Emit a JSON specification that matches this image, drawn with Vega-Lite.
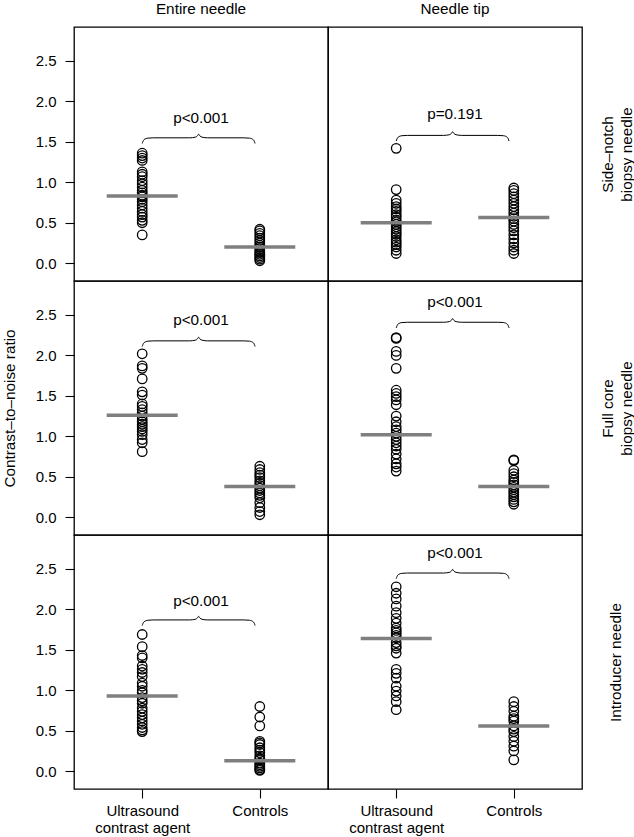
{
"$schema": "https://vega.github.io/schema/vega-lite/v6.json",
"padding": {"left": 1, "top": 1, "right": 0, "bottom": 0},
"background": "white",
"bounds": "flush",
"spacing": 0,
"columns": 2,
"datasets": {"cnr": [
{"col":"Entire needle","row":"Side–notch","kind":"pt","x":1,"y":1.36},
{"col":"Entire needle","row":"Side–notch","kind":"pt","x":1,"y":1.33},
{"col":"Entire needle","row":"Side–notch","kind":"pt","x":1,"y":1.30},
{"col":"Entire needle","row":"Side–notch","kind":"pt","x":1,"y":1.27},
{"col":"Entire needle","row":"Side–notch","kind":"pt","x":1,"y":1.13},
{"col":"Entire needle","row":"Side–notch","kind":"pt","x":1,"y":1.10},
{"col":"Entire needle","row":"Side–notch","kind":"pt","x":1,"y":1.07},
{"col":"Entire needle","row":"Side–notch","kind":"pt","x":1,"y":1.02},
{"col":"Entire needle","row":"Side–notch","kind":"pt","x":1,"y":0.98},
{"col":"Entire needle","row":"Side–notch","kind":"pt","x":1,"y":0.94},
{"col":"Entire needle","row":"Side–notch","kind":"pt","x":1,"y":0.90},
{"col":"Entire needle","row":"Side–notch","kind":"pt","x":1,"y":0.87},
{"col":"Entire needle","row":"Side–notch","kind":"pt","x":1,"y":0.84},
{"col":"Entire needle","row":"Side–notch","kind":"pt","x":1,"y":0.82},
{"col":"Entire needle","row":"Side–notch","kind":"pt","x":1,"y":0.79},
{"col":"Entire needle","row":"Side–notch","kind":"pt","x":1,"y":0.76},
{"col":"Entire needle","row":"Side–notch","kind":"pt","x":1,"y":0.72},
{"col":"Entire needle","row":"Side–notch","kind":"pt","x":1,"y":0.68},
{"col":"Entire needle","row":"Side–notch","kind":"pt","x":1,"y":0.64},
{"col":"Entire needle","row":"Side–notch","kind":"pt","x":1,"y":0.60},
{"col":"Entire needle","row":"Side–notch","kind":"pt","x":1,"y":0.57},
{"col":"Entire needle","row":"Side–notch","kind":"pt","x":1,"y":0.53},
{"col":"Entire needle","row":"Side–notch","kind":"pt","x":1,"y":0.50},
{"col":"Entire needle","row":"Side–notch","kind":"pt","x":1,"y":0.35},
{"col":"Entire needle","row":"Side–notch","kind":"pt","x":2,"y":0.42},
{"col":"Entire needle","row":"Side–notch","kind":"pt","x":2,"y":0.40},
{"col":"Entire needle","row":"Side–notch","kind":"pt","x":2,"y":0.37},
{"col":"Entire needle","row":"Side–notch","kind":"pt","x":2,"y":0.34},
{"col":"Entire needle","row":"Side–notch","kind":"pt","x":2,"y":0.31},
{"col":"Entire needle","row":"Side–notch","kind":"pt","x":2,"y":0.28},
{"col":"Entire needle","row":"Side–notch","kind":"pt","x":2,"y":0.25},
{"col":"Entire needle","row":"Side–notch","kind":"pt","x":2,"y":0.22},
{"col":"Entire needle","row":"Side–notch","kind":"pt","x":2,"y":0.20},
{"col":"Entire needle","row":"Side–notch","kind":"pt","x":2,"y":0.18},
{"col":"Entire needle","row":"Side–notch","kind":"pt","x":2,"y":0.15},
{"col":"Entire needle","row":"Side–notch","kind":"pt","x":2,"y":0.13},
{"col":"Entire needle","row":"Side–notch","kind":"pt","x":2,"y":0.11},
{"col":"Entire needle","row":"Side–notch","kind":"pt","x":2,"y":0.09},
{"col":"Entire needle","row":"Side–notch","kind":"pt","x":2,"y":0.07},
{"col":"Entire needle","row":"Side–notch","kind":"pt","x":2,"y":0.05},
{"col":"Entire needle","row":"Side–notch","kind":"pt","x":2,"y":0.03},
{"col":"Entire needle","row":"Side–notch","kind":"mean","x":1,"y":0.83},
{"col":"Entire needle","row":"Side–notch","kind":"mean","x":2,"y":0.20},
{"col":"Entire needle","row":"Side–notch","kind":"p","x":1.5,"y":1.79,"label":"p<0.001"},
{"col":"Entire needle","row":"Side–notch","kind":"brace","x":1.000,"y":1.48},
{"col":"Entire needle","row":"Side–notch","kind":"brace","x":1.014,"y":1.525},
{"col":"Entire needle","row":"Side–notch","kind":"brace","x":1.048,"y":1.546},
{"col":"Entire needle","row":"Side–notch","kind":"brace","x":1.096,"y":1.55},
{"col":"Entire needle","row":"Side–notch","kind":"brace","x":1.403,"y":1.55},
{"col":"Entire needle","row":"Side–notch","kind":"brace","x":1.451,"y":1.558},
{"col":"Entire needle","row":"Side–notch","kind":"brace","x":1.470,"y":1.575},
{"col":"Entire needle","row":"Side–notch","kind":"brace","x":1.480,"y":1.595},
{"col":"Entire needle","row":"Side–notch","kind":"brace","x":1.490,"y":1.575},
{"col":"Entire needle","row":"Side–notch","kind":"brace","x":1.509,"y":1.558},
{"col":"Entire needle","row":"Side–notch","kind":"brace","x":1.557,"y":1.55},
{"col":"Entire needle","row":"Side–notch","kind":"brace","x":1.864,"y":1.55},
{"col":"Entire needle","row":"Side–notch","kind":"brace","x":1.912,"y":1.546},
{"col":"Entire needle","row":"Side–notch","kind":"brace","x":1.946,"y":1.525},
{"col":"Entire needle","row":"Side–notch","kind":"brace","x":1.960,"y":1.48},

{"col":"Needle tip","row":"Side–notch","kind":"pt","x":1,"y":1.42},
{"col":"Needle tip","row":"Side–notch","kind":"pt","x":1,"y":0.91},
{"col":"Needle tip","row":"Side–notch","kind":"pt","x":1,"y":0.78},
{"col":"Needle tip","row":"Side–notch","kind":"pt","x":1,"y":0.74},
{"col":"Needle tip","row":"Side–notch","kind":"pt","x":1,"y":0.70},
{"col":"Needle tip","row":"Side–notch","kind":"pt","x":1,"y":0.67},
{"col":"Needle tip","row":"Side–notch","kind":"pt","x":1,"y":0.64},
{"col":"Needle tip","row":"Side–notch","kind":"pt","x":1,"y":0.60},
{"col":"Needle tip","row":"Side–notch","kind":"pt","x":1,"y":0.57},
{"col":"Needle tip","row":"Side–notch","kind":"pt","x":1,"y":0.53},
{"col":"Needle tip","row":"Side–notch","kind":"pt","x":1,"y":0.51},
{"col":"Needle tip","row":"Side–notch","kind":"pt","x":1,"y":0.48},
{"col":"Needle tip","row":"Side–notch","kind":"pt","x":1,"y":0.45},
{"col":"Needle tip","row":"Side–notch","kind":"pt","x":1,"y":0.42},
{"col":"Needle tip","row":"Side–notch","kind":"pt","x":1,"y":0.39},
{"col":"Needle tip","row":"Side–notch","kind":"pt","x":1,"y":0.36},
{"col":"Needle tip","row":"Side–notch","kind":"pt","x":1,"y":0.33},
{"col":"Needle tip","row":"Side–notch","kind":"pt","x":1,"y":0.29},
{"col":"Needle tip","row":"Side–notch","kind":"pt","x":1,"y":0.26},
{"col":"Needle tip","row":"Side–notch","kind":"pt","x":1,"y":0.23},
{"col":"Needle tip","row":"Side–notch","kind":"pt","x":1,"y":0.20},
{"col":"Needle tip","row":"Side–notch","kind":"pt","x":1,"y":0.16},
{"col":"Needle tip","row":"Side–notch","kind":"pt","x":1,"y":0.12},
{"col":"Needle tip","row":"Side–notch","kind":"pt","x":2,"y":0.93},
{"col":"Needle tip","row":"Side–notch","kind":"pt","x":2,"y":0.90},
{"col":"Needle tip","row":"Side–notch","kind":"pt","x":2,"y":0.86},
{"col":"Needle tip","row":"Side–notch","kind":"pt","x":2,"y":0.82},
{"col":"Needle tip","row":"Side–notch","kind":"pt","x":2,"y":0.78},
{"col":"Needle tip","row":"Side–notch","kind":"pt","x":2,"y":0.74},
{"col":"Needle tip","row":"Side–notch","kind":"pt","x":2,"y":0.70},
{"col":"Needle tip","row":"Side–notch","kind":"pt","x":2,"y":0.66},
{"col":"Needle tip","row":"Side–notch","kind":"pt","x":2,"y":0.62},
{"col":"Needle tip","row":"Side–notch","kind":"pt","x":2,"y":0.58},
{"col":"Needle tip","row":"Side–notch","kind":"pt","x":2,"y":0.55},
{"col":"Needle tip","row":"Side–notch","kind":"pt","x":2,"y":0.52},
{"col":"Needle tip","row":"Side–notch","kind":"pt","x":2,"y":0.48},
{"col":"Needle tip","row":"Side–notch","kind":"pt","x":2,"y":0.44},
{"col":"Needle tip","row":"Side–notch","kind":"pt","x":2,"y":0.40},
{"col":"Needle tip","row":"Side–notch","kind":"pt","x":2,"y":0.35},
{"col":"Needle tip","row":"Side–notch","kind":"pt","x":2,"y":0.30},
{"col":"Needle tip","row":"Side–notch","kind":"pt","x":2,"y":0.25},
{"col":"Needle tip","row":"Side–notch","kind":"pt","x":2,"y":0.20},
{"col":"Needle tip","row":"Side–notch","kind":"pt","x":2,"y":0.16},
{"col":"Needle tip","row":"Side–notch","kind":"pt","x":2,"y":0.12},
{"col":"Needle tip","row":"Side–notch","kind":"mean","x":1,"y":0.50},
{"col":"Needle tip","row":"Side–notch","kind":"mean","x":2,"y":0.565},
{"col":"Needle tip","row":"Side–notch","kind":"p","x":1.5,"y":1.85,"label":"p=0.191"},
{"col":"Needle tip","row":"Side–notch","kind":"brace","x":1.000,"y":1.51},
{"col":"Needle tip","row":"Side–notch","kind":"brace","x":1.014,"y":1.555},
{"col":"Needle tip","row":"Side–notch","kind":"brace","x":1.048,"y":1.576},
{"col":"Needle tip","row":"Side–notch","kind":"brace","x":1.096,"y":1.58},
{"col":"Needle tip","row":"Side–notch","kind":"brace","x":1.403,"y":1.58},
{"col":"Needle tip","row":"Side–notch","kind":"brace","x":1.451,"y":1.588},
{"col":"Needle tip","row":"Side–notch","kind":"brace","x":1.470,"y":1.605},
{"col":"Needle tip","row":"Side–notch","kind":"brace","x":1.480,"y":1.625},
{"col":"Needle tip","row":"Side–notch","kind":"brace","x":1.490,"y":1.605},
{"col":"Needle tip","row":"Side–notch","kind":"brace","x":1.509,"y":1.588},
{"col":"Needle tip","row":"Side–notch","kind":"brace","x":1.557,"y":1.58},
{"col":"Needle tip","row":"Side–notch","kind":"brace","x":1.864,"y":1.58},
{"col":"Needle tip","row":"Side–notch","kind":"brace","x":1.912,"y":1.576},
{"col":"Needle tip","row":"Side–notch","kind":"brace","x":1.946,"y":1.555},
{"col":"Needle tip","row":"Side–notch","kind":"brace","x":1.960,"y":1.51},

{"col":"Entire needle","row":"Full core","kind":"pt","x":1,"y":2.02},
{"col":"Entire needle","row":"Full core","kind":"pt","x":1,"y":1.87},
{"col":"Entire needle","row":"Full core","kind":"pt","x":1,"y":1.84},
{"col":"Entire needle","row":"Full core","kind":"pt","x":1,"y":1.71},
{"col":"Entire needle","row":"Full core","kind":"pt","x":1,"y":1.55},
{"col":"Entire needle","row":"Full core","kind":"pt","x":1,"y":1.51},
{"col":"Entire needle","row":"Full core","kind":"pt","x":1,"y":1.40},
{"col":"Entire needle","row":"Full core","kind":"pt","x":1,"y":1.37},
{"col":"Entire needle","row":"Full core","kind":"pt","x":1,"y":1.33},
{"col":"Entire needle","row":"Full core","kind":"pt","x":1,"y":1.29},
{"col":"Entire needle","row":"Full core","kind":"pt","x":1,"y":1.25},
{"col":"Entire needle","row":"Full core","kind":"pt","x":1,"y":1.21},
{"col":"Entire needle","row":"Full core","kind":"pt","x":1,"y":1.18},
{"col":"Entire needle","row":"Full core","kind":"pt","x":1,"y":1.15},
{"col":"Entire needle","row":"Full core","kind":"pt","x":1,"y":1.12},
{"col":"Entire needle","row":"Full core","kind":"pt","x":1,"y":1.09},
{"col":"Entire needle","row":"Full core","kind":"pt","x":1,"y":1.06},
{"col":"Entire needle","row":"Full core","kind":"pt","x":1,"y":1.02},
{"col":"Entire needle","row":"Full core","kind":"pt","x":1,"y":0.96},
{"col":"Entire needle","row":"Full core","kind":"pt","x":1,"y":0.92},
{"col":"Entire needle","row":"Full core","kind":"pt","x":1,"y":0.81},
{"col":"Entire needle","row":"Full core","kind":"pt","x":2,"y":0.63},
{"col":"Entire needle","row":"Full core","kind":"pt","x":2,"y":0.59},
{"col":"Entire needle","row":"Full core","kind":"pt","x":2,"y":0.55},
{"col":"Entire needle","row":"Full core","kind":"pt","x":2,"y":0.52},
{"col":"Entire needle","row":"Full core","kind":"pt","x":2,"y":0.49},
{"col":"Entire needle","row":"Full core","kind":"pt","x":2,"y":0.45},
{"col":"Entire needle","row":"Full core","kind":"pt","x":2,"y":0.42},
{"col":"Entire needle","row":"Full core","kind":"pt","x":2,"y":0.39},
{"col":"Entire needle","row":"Full core","kind":"pt","x":2,"y":0.36},
{"col":"Entire needle","row":"Full core","kind":"pt","x":2,"y":0.33},
{"col":"Entire needle","row":"Full core","kind":"pt","x":2,"y":0.30},
{"col":"Entire needle","row":"Full core","kind":"pt","x":2,"y":0.27},
{"col":"Entire needle","row":"Full core","kind":"pt","x":2,"y":0.24},
{"col":"Entire needle","row":"Full core","kind":"pt","x":2,"y":0.18},
{"col":"Entire needle","row":"Full core","kind":"pt","x":2,"y":0.12},
{"col":"Entire needle","row":"Full core","kind":"pt","x":2,"y":0.07},
{"col":"Entire needle","row":"Full core","kind":"pt","x":2,"y":0.03},
{"col":"Entire needle","row":"Full core","kind":"mean","x":1,"y":1.26},
{"col":"Entire needle","row":"Full core","kind":"mean","x":2,"y":0.38},
{"col":"Entire needle","row":"Full core","kind":"p","x":1.5,"y":2.44,"label":"p<0.001"},
{"col":"Entire needle","row":"Full core","kind":"brace","x":1.000,"y":2.11},
{"col":"Entire needle","row":"Full core","kind":"brace","x":1.014,"y":2.155},
{"col":"Entire needle","row":"Full core","kind":"brace","x":1.048,"y":2.176},
{"col":"Entire needle","row":"Full core","kind":"brace","x":1.096,"y":2.18},
{"col":"Entire needle","row":"Full core","kind":"brace","x":1.403,"y":2.18},
{"col":"Entire needle","row":"Full core","kind":"brace","x":1.451,"y":2.188},
{"col":"Entire needle","row":"Full core","kind":"brace","x":1.470,"y":2.205},
{"col":"Entire needle","row":"Full core","kind":"brace","x":1.480,"y":2.225},
{"col":"Entire needle","row":"Full core","kind":"brace","x":1.490,"y":2.205},
{"col":"Entire needle","row":"Full core","kind":"brace","x":1.509,"y":2.188},
{"col":"Entire needle","row":"Full core","kind":"brace","x":1.557,"y":2.18},
{"col":"Entire needle","row":"Full core","kind":"brace","x":1.864,"y":2.18},
{"col":"Entire needle","row":"Full core","kind":"brace","x":1.912,"y":2.176},
{"col":"Entire needle","row":"Full core","kind":"brace","x":1.946,"y":2.155},
{"col":"Entire needle","row":"Full core","kind":"brace","x":1.960,"y":2.11},

{"col":"Needle tip","row":"Full core","kind":"pt","x":1,"y":2.22},
{"col":"Needle tip","row":"Full core","kind":"pt","x":1,"y":2.21},
{"col":"Needle tip","row":"Full core","kind":"pt","x":1,"y":2.05},
{"col":"Needle tip","row":"Full core","kind":"pt","x":1,"y":2.00},
{"col":"Needle tip","row":"Full core","kind":"pt","x":1,"y":1.84},
{"col":"Needle tip","row":"Full core","kind":"pt","x":1,"y":1.57},
{"col":"Needle tip","row":"Full core","kind":"pt","x":1,"y":1.53},
{"col":"Needle tip","row":"Full core","kind":"pt","x":1,"y":1.49},
{"col":"Needle tip","row":"Full core","kind":"pt","x":1,"y":1.45},
{"col":"Needle tip","row":"Full core","kind":"pt","x":1,"y":1.39},
{"col":"Needle tip","row":"Full core","kind":"pt","x":1,"y":1.25},
{"col":"Needle tip","row":"Full core","kind":"pt","x":1,"y":1.18},
{"col":"Needle tip","row":"Full core","kind":"pt","x":1,"y":1.12},
{"col":"Needle tip","row":"Full core","kind":"pt","x":1,"y":1.08},
{"col":"Needle tip","row":"Full core","kind":"pt","x":1,"y":1.04},
{"col":"Needle tip","row":"Full core","kind":"pt","x":1,"y":1.00},
{"col":"Needle tip","row":"Full core","kind":"pt","x":1,"y":0.96},
{"col":"Needle tip","row":"Full core","kind":"pt","x":1,"y":0.92},
{"col":"Needle tip","row":"Full core","kind":"pt","x":1,"y":0.88},
{"col":"Needle tip","row":"Full core","kind":"pt","x":1,"y":0.84},
{"col":"Needle tip","row":"Full core","kind":"pt","x":1,"y":0.78},
{"col":"Needle tip","row":"Full core","kind":"pt","x":1,"y":0.72},
{"col":"Needle tip","row":"Full core","kind":"pt","x":1,"y":0.66},
{"col":"Needle tip","row":"Full core","kind":"pt","x":1,"y":0.62},
{"col":"Needle tip","row":"Full core","kind":"pt","x":1,"y":0.57},
{"col":"Needle tip","row":"Full core","kind":"pt","x":2,"y":0.71},
{"col":"Needle tip","row":"Full core","kind":"pt","x":2,"y":0.70},
{"col":"Needle tip","row":"Full core","kind":"pt","x":2,"y":0.58},
{"col":"Needle tip","row":"Full core","kind":"pt","x":2,"y":0.54},
{"col":"Needle tip","row":"Full core","kind":"pt","x":2,"y":0.50},
{"col":"Needle tip","row":"Full core","kind":"pt","x":2,"y":0.46},
{"col":"Needle tip","row":"Full core","kind":"pt","x":2,"y":0.43},
{"col":"Needle tip","row":"Full core","kind":"pt","x":2,"y":0.40},
{"col":"Needle tip","row":"Full core","kind":"pt","x":2,"y":0.37},
{"col":"Needle tip","row":"Full core","kind":"pt","x":2,"y":0.34},
{"col":"Needle tip","row":"Full core","kind":"pt","x":2,"y":0.31},
{"col":"Needle tip","row":"Full core","kind":"pt","x":2,"y":0.28},
{"col":"Needle tip","row":"Full core","kind":"pt","x":2,"y":0.25},
{"col":"Needle tip","row":"Full core","kind":"pt","x":2,"y":0.22},
{"col":"Needle tip","row":"Full core","kind":"pt","x":2,"y":0.19},
{"col":"Needle tip","row":"Full core","kind":"pt","x":2,"y":0.16},
{"col":"Needle tip","row":"Full core","kind":"mean","x":1,"y":1.02},
{"col":"Needle tip","row":"Full core","kind":"mean","x":2,"y":0.38},
{"col":"Needle tip","row":"Full core","kind":"p","x":1.5,"y":2.66,"label":"p<0.001"},
{"col":"Needle tip","row":"Full core","kind":"brace","x":1.000,"y":2.34},
{"col":"Needle tip","row":"Full core","kind":"brace","x":1.014,"y":2.385},
{"col":"Needle tip","row":"Full core","kind":"brace","x":1.048,"y":2.406},
{"col":"Needle tip","row":"Full core","kind":"brace","x":1.096,"y":2.41},
{"col":"Needle tip","row":"Full core","kind":"brace","x":1.403,"y":2.41},
{"col":"Needle tip","row":"Full core","kind":"brace","x":1.451,"y":2.418},
{"col":"Needle tip","row":"Full core","kind":"brace","x":1.470,"y":2.435},
{"col":"Needle tip","row":"Full core","kind":"brace","x":1.480,"y":2.455},
{"col":"Needle tip","row":"Full core","kind":"brace","x":1.490,"y":2.435},
{"col":"Needle tip","row":"Full core","kind":"brace","x":1.509,"y":2.418},
{"col":"Needle tip","row":"Full core","kind":"brace","x":1.557,"y":2.41},
{"col":"Needle tip","row":"Full core","kind":"brace","x":1.864,"y":2.41},
{"col":"Needle tip","row":"Full core","kind":"brace","x":1.912,"y":2.406},
{"col":"Needle tip","row":"Full core","kind":"brace","x":1.946,"y":2.385},
{"col":"Needle tip","row":"Full core","kind":"brace","x":1.960,"y":2.34},

{"col":"Entire needle","row":"Introducer","kind":"pt","x":1,"y":1.69},
{"col":"Entire needle","row":"Introducer","kind":"pt","x":1,"y":1.54},
{"col":"Entire needle","row":"Introducer","kind":"pt","x":1,"y":1.43},
{"col":"Entire needle","row":"Introducer","kind":"pt","x":1,"y":1.40},
{"col":"Entire needle","row":"Introducer","kind":"pt","x":1,"y":1.30},
{"col":"Entire needle","row":"Introducer","kind":"pt","x":1,"y":1.26},
{"col":"Entire needle","row":"Introducer","kind":"pt","x":1,"y":1.22},
{"col":"Entire needle","row":"Introducer","kind":"pt","x":1,"y":1.17},
{"col":"Entire needle","row":"Introducer","kind":"pt","x":1,"y":1.09},
{"col":"Entire needle","row":"Introducer","kind":"pt","x":1,"y":1.05},
{"col":"Entire needle","row":"Introducer","kind":"pt","x":1,"y":1.00},
{"col":"Entire needle","row":"Introducer","kind":"pt","x":1,"y":0.97},
{"col":"Entire needle","row":"Introducer","kind":"pt","x":1,"y":0.91},
{"col":"Entire needle","row":"Introducer","kind":"pt","x":1,"y":0.87},
{"col":"Entire needle","row":"Introducer","kind":"pt","x":1,"y":0.84},
{"col":"Entire needle","row":"Introducer","kind":"pt","x":1,"y":0.78},
{"col":"Entire needle","row":"Introducer","kind":"pt","x":1,"y":0.74},
{"col":"Entire needle","row":"Introducer","kind":"pt","x":1,"y":0.70},
{"col":"Entire needle","row":"Introducer","kind":"pt","x":1,"y":0.66},
{"col":"Entire needle","row":"Introducer","kind":"pt","x":1,"y":0.62},
{"col":"Entire needle","row":"Introducer","kind":"pt","x":1,"y":0.58},
{"col":"Entire needle","row":"Introducer","kind":"pt","x":1,"y":0.54},
{"col":"Entire needle","row":"Introducer","kind":"pt","x":1,"y":0.51},
{"col":"Entire needle","row":"Introducer","kind":"pt","x":1,"y":0.49},
{"col":"Entire needle","row":"Introducer","kind":"pt","x":2,"y":0.80},
{"col":"Entire needle","row":"Introducer","kind":"pt","x":2,"y":0.67},
{"col":"Entire needle","row":"Introducer","kind":"pt","x":2,"y":0.56},
{"col":"Entire needle","row":"Introducer","kind":"pt","x":2,"y":0.37},
{"col":"Entire needle","row":"Introducer","kind":"pt","x":2,"y":0.35},
{"col":"Entire needle","row":"Introducer","kind":"pt","x":2,"y":0.33},
{"col":"Entire needle","row":"Introducer","kind":"pt","x":2,"y":0.29},
{"col":"Entire needle","row":"Introducer","kind":"pt","x":2,"y":0.26},
{"col":"Entire needle","row":"Introducer","kind":"pt","x":2,"y":0.23},
{"col":"Entire needle","row":"Introducer","kind":"pt","x":2,"y":0.19},
{"col":"Entire needle","row":"Introducer","kind":"pt","x":2,"y":0.16},
{"col":"Entire needle","row":"Introducer","kind":"pt","x":2,"y":0.14},
{"col":"Entire needle","row":"Introducer","kind":"pt","x":2,"y":0.10},
{"col":"Entire needle","row":"Introducer","kind":"pt","x":2,"y":0.08},
{"col":"Entire needle","row":"Introducer","kind":"pt","x":2,"y":0.06},
{"col":"Entire needle","row":"Introducer","kind":"pt","x":2,"y":0.04},
{"col":"Entire needle","row":"Introducer","kind":"pt","x":2,"y":0.02},
{"col":"Entire needle","row":"Introducer","kind":"pt","x":2,"y":0.01},
{"col":"Entire needle","row":"Introducer","kind":"mean","x":1,"y":0.93},
{"col":"Entire needle","row":"Introducer","kind":"mean","x":2,"y":0.13},
{"col":"Entire needle","row":"Introducer","kind":"p","x":1.5,"y":2.11,"label":"p<0.001"},
{"col":"Entire needle","row":"Introducer","kind":"brace","x":1.000,"y":1.80},
{"col":"Entire needle","row":"Introducer","kind":"brace","x":1.014,"y":1.845},
{"col":"Entire needle","row":"Introducer","kind":"brace","x":1.048,"y":1.866},
{"col":"Entire needle","row":"Introducer","kind":"brace","x":1.096,"y":1.87},
{"col":"Entire needle","row":"Introducer","kind":"brace","x":1.403,"y":1.87},
{"col":"Entire needle","row":"Introducer","kind":"brace","x":1.451,"y":1.878},
{"col":"Entire needle","row":"Introducer","kind":"brace","x":1.470,"y":1.895},
{"col":"Entire needle","row":"Introducer","kind":"brace","x":1.480,"y":1.915},
{"col":"Entire needle","row":"Introducer","kind":"brace","x":1.490,"y":1.895},
{"col":"Entire needle","row":"Introducer","kind":"brace","x":1.509,"y":1.878},
{"col":"Entire needle","row":"Introducer","kind":"brace","x":1.557,"y":1.87},
{"col":"Entire needle","row":"Introducer","kind":"brace","x":1.864,"y":1.87},
{"col":"Entire needle","row":"Introducer","kind":"brace","x":1.912,"y":1.866},
{"col":"Entire needle","row":"Introducer","kind":"brace","x":1.946,"y":1.845},
{"col":"Entire needle","row":"Introducer","kind":"brace","x":1.960,"y":1.80},

{"col":"Needle tip","row":"Introducer","kind":"pt","x":1,"y":2.28},
{"col":"Needle tip","row":"Introducer","kind":"pt","x":1,"y":2.20},
{"col":"Needle tip","row":"Introducer","kind":"pt","x":1,"y":2.13},
{"col":"Needle tip","row":"Introducer","kind":"pt","x":1,"y":2.04},
{"col":"Needle tip","row":"Introducer","kind":"pt","x":1,"y":1.96},
{"col":"Needle tip","row":"Introducer","kind":"pt","x":1,"y":1.89},
{"col":"Needle tip","row":"Introducer","kind":"pt","x":1,"y":1.83},
{"col":"Needle tip","row":"Introducer","kind":"pt","x":1,"y":1.77},
{"col":"Needle tip","row":"Introducer","kind":"pt","x":1,"y":1.74},
{"col":"Needle tip","row":"Introducer","kind":"pt","x":1,"y":1.71},
{"col":"Needle tip","row":"Introducer","kind":"pt","x":1,"y":1.68},
{"col":"Needle tip","row":"Introducer","kind":"pt","x":1,"y":1.65},
{"col":"Needle tip","row":"Introducer","kind":"pt","x":1,"y":1.59},
{"col":"Needle tip","row":"Introducer","kind":"pt","x":1,"y":1.55},
{"col":"Needle tip","row":"Introducer","kind":"pt","x":1,"y":1.52},
{"col":"Needle tip","row":"Introducer","kind":"pt","x":1,"y":1.46},
{"col":"Needle tip","row":"Introducer","kind":"pt","x":1,"y":1.26},
{"col":"Needle tip","row":"Introducer","kind":"pt","x":1,"y":1.21},
{"col":"Needle tip","row":"Introducer","kind":"pt","x":1,"y":1.15},
{"col":"Needle tip","row":"Introducer","kind":"pt","x":1,"y":1.05},
{"col":"Needle tip","row":"Introducer","kind":"pt","x":1,"y":0.99},
{"col":"Needle tip","row":"Introducer","kind":"pt","x":1,"y":0.93},
{"col":"Needle tip","row":"Introducer","kind":"pt","x":1,"y":0.86},
{"col":"Needle tip","row":"Introducer","kind":"pt","x":1,"y":0.76},
{"col":"Needle tip","row":"Introducer","kind":"pt","x":2,"y":0.86},
{"col":"Needle tip","row":"Introducer","kind":"pt","x":2,"y":0.80},
{"col":"Needle tip","row":"Introducer","kind":"pt","x":2,"y":0.74},
{"col":"Needle tip","row":"Introducer","kind":"pt","x":2,"y":0.68},
{"col":"Needle tip","row":"Introducer","kind":"pt","x":2,"y":0.65},
{"col":"Needle tip","row":"Introducer","kind":"pt","x":2,"y":0.62},
{"col":"Needle tip","row":"Introducer","kind":"pt","x":2,"y":0.56},
{"col":"Needle tip","row":"Introducer","kind":"pt","x":2,"y":0.52},
{"col":"Needle tip","row":"Introducer","kind":"pt","x":2,"y":0.49},
{"col":"Needle tip","row":"Introducer","kind":"pt","x":2,"y":0.43},
{"col":"Needle tip","row":"Introducer","kind":"pt","x":2,"y":0.37},
{"col":"Needle tip","row":"Introducer","kind":"pt","x":2,"y":0.31},
{"col":"Needle tip","row":"Introducer","kind":"pt","x":2,"y":0.25},
{"col":"Needle tip","row":"Introducer","kind":"pt","x":2,"y":0.14},
{"col":"Needle tip","row":"Introducer","kind":"mean","x":1,"y":1.64},
{"col":"Needle tip","row":"Introducer","kind":"mean","x":2,"y":0.56},
{"col":"Needle tip","row":"Introducer","kind":"p","x":1.5,"y":2.70,"label":"p<0.001"},
{"col":"Needle tip","row":"Introducer","kind":"brace","x":1.000,"y":2.38},
{"col":"Needle tip","row":"Introducer","kind":"brace","x":1.014,"y":2.425},
{"col":"Needle tip","row":"Introducer","kind":"brace","x":1.048,"y":2.446},
{"col":"Needle tip","row":"Introducer","kind":"brace","x":1.096,"y":2.45},
{"col":"Needle tip","row":"Introducer","kind":"brace","x":1.403,"y":2.45},
{"col":"Needle tip","row":"Introducer","kind":"brace","x":1.451,"y":2.458},
{"col":"Needle tip","row":"Introducer","kind":"brace","x":1.470,"y":2.475},
{"col":"Needle tip","row":"Introducer","kind":"brace","x":1.480,"y":2.495},
{"col":"Needle tip","row":"Introducer","kind":"brace","x":1.490,"y":2.475},
{"col":"Needle tip","row":"Introducer","kind":"brace","x":1.509,"y":2.458},
{"col":"Needle tip","row":"Introducer","kind":"brace","x":1.557,"y":2.45},
{"col":"Needle tip","row":"Introducer","kind":"brace","x":1.864,"y":2.45},
{"col":"Needle tip","row":"Introducer","kind":"brace","x":1.912,"y":2.446},
{"col":"Needle tip","row":"Introducer","kind":"brace","x":1.946,"y":2.425},
{"col":"Needle tip","row":"Introducer","kind":"brace","x":1.960,"y":2.38}
]},
"concat": [
{
  "width": 254, "height": 254,
  "data": {"name": "cnr"},
  "transform": [{"filter": "datum.col == 'Entire needle' && datum.row == 'Side–notch'"}],
  "title": {"text": "Entire needle"},
  "encoding": {
    "x": {"field": "x", "type": "quantitative", "title": null, "scale": {"domain": [0.42, 2.58], "nice": false, "zero": false}, "axis": null},
    "y": {"field": "y", "type": "quantitative", "title": null, "scale": {"domain": [-0.22, 2.92], "nice": false, "zero": false},
      "axis": {"values": [0, 0.5, 1, 1.5, 2, 2.5], "format": ".1f", "labelPadding": 9, "tickSize": 9}}
  },
  "layer": [
    {"transform": [{"filter": "datum.kind == 'pt'"}], "mark": {"type": "point", "shape": "circle", "filled": false, "stroke": "black", "strokeWidth": 1.3, "size": 90, "opacity": 1}},
    {"transform": [{"filter": "datum.kind == 'mean'"}], "mark": {"type": "tick", "orient": "horizontal", "size": 71, "thickness": 3.5, "color": "#7f7f7f", "opacity": 1}},
    {"transform": [{"filter": "datum.kind == 'brace'"}], "mark": {"type": "line", "color": "black", "strokeWidth": 1, "interpolate": "monotone"}, "encoding": {}},
    {"transform": [{"filter": "datum.kind == 'p'"}], "mark": {"type": "text", "fontSize": 15.3, "font": "Liberation Sans", "color": "black"}, "encoding": {"text": {"field": "label"}}}
  ]
},
{
  "width": 254, "height": 254,
  "data": {"name": "cnr"},
  "transform": [{"filter": "datum.col == 'Needle tip' && datum.row == 'Side–notch'"}],
  "title": {"text": "Needle tip"},
  "encoding": {
    "x": {"field": "x", "type": "quantitative", "title": null, "scale": {"domain": [0.42, 2.58], "nice": false, "zero": false}, "axis": null},
    "y": {"field": "y", "type": "quantitative", "title": ["Side–notch", "biopsy needle"], "scale": {"domain": [-0.22, 2.92], "nice": false, "zero": false},
      "axis": {"orient": "right", "labels": false, "ticks": false, "titleAngle": 270, "titleBaseline": "top", "titlePadding": -1, "titleLineHeight": 19}}
  },
  "layer": [
    {"transform": [{"filter": "datum.kind == 'pt'"}], "mark": {"type": "point", "shape": "circle", "filled": false, "stroke": "black", "strokeWidth": 1.3, "size": 90, "opacity": 1}},
    {"transform": [{"filter": "datum.kind == 'mean'"}], "mark": {"type": "tick", "orient": "horizontal", "size": 71, "thickness": 3.5, "color": "#7f7f7f", "opacity": 1}},
    {"transform": [{"filter": "datum.kind == 'brace'"}], "mark": {"type": "line", "color": "black", "strokeWidth": 1, "interpolate": "monotone"}, "encoding": {}},
    {"transform": [{"filter": "datum.kind == 'p'"}], "mark": {"type": "text", "fontSize": 15.3, "font": "Liberation Sans", "color": "black"}, "encoding": {"text": {"field": "label"}}}
  ]
},
{
  "width": 254, "height": 254,
  "data": {"name": "cnr"},
  "transform": [{"filter": "datum.col == 'Entire needle' && datum.row == 'Full core'"}],
  "encoding": {
    "x": {"field": "x", "type": "quantitative", "title": null, "scale": {"domain": [0.42, 2.58], "nice": false, "zero": false}, "axis": null},
    "y": {"field": "y", "type": "quantitative", "title": "Contrast–to–noise ratio", "scale": {"domain": [-0.22, 2.92], "nice": false, "zero": false},
      "axis": {"values": [0, 0.5, 1, 1.5, 2, 2.5], "format": ".1f", "labelPadding": 9, "tickSize": 9, "titlePadding": 18}}
  },
  "layer": [
    {"transform": [{"filter": "datum.kind == 'pt'"}], "mark": {"type": "point", "shape": "circle", "filled": false, "stroke": "black", "strokeWidth": 1.3, "size": 90, "opacity": 1}},
    {"transform": [{"filter": "datum.kind == 'mean'"}], "mark": {"type": "tick", "orient": "horizontal", "size": 71, "thickness": 3.5, "color": "#7f7f7f", "opacity": 1}},
    {"transform": [{"filter": "datum.kind == 'brace'"}], "mark": {"type": "line", "color": "black", "strokeWidth": 1, "interpolate": "monotone"}, "encoding": {}},
    {"transform": [{"filter": "datum.kind == 'p'"}], "mark": {"type": "text", "fontSize": 15.3, "font": "Liberation Sans", "color": "black"}, "encoding": {"text": {"field": "label"}}}
  ]
},
{
  "width": 254, "height": 254,
  "data": {"name": "cnr"},
  "transform": [{"filter": "datum.col == 'Needle tip' && datum.row == 'Full core'"}],
  "encoding": {
    "x": {"field": "x", "type": "quantitative", "title": null, "scale": {"domain": [0.42, 2.58], "nice": false, "zero": false}, "axis": null},
    "y": {"field": "y", "type": "quantitative", "title": ["Full core", "biopsy needle"], "scale": {"domain": [-0.22, 2.92], "nice": false, "zero": false},
      "axis": {"orient": "right", "labels": false, "ticks": false, "titleAngle": 270, "titleBaseline": "top", "titlePadding": -1, "titleLineHeight": 19}}
  },
  "layer": [
    {"transform": [{"filter": "datum.kind == 'pt'"}], "mark": {"type": "point", "shape": "circle", "filled": false, "stroke": "black", "strokeWidth": 1.3, "size": 90, "opacity": 1}},
    {"transform": [{"filter": "datum.kind == 'mean'"}], "mark": {"type": "tick", "orient": "horizontal", "size": 71, "thickness": 3.5, "color": "#7f7f7f", "opacity": 1}},
    {"transform": [{"filter": "datum.kind == 'brace'"}], "mark": {"type": "line", "color": "black", "strokeWidth": 1, "interpolate": "monotone"}, "encoding": {}},
    {"transform": [{"filter": "datum.kind == 'p'"}], "mark": {"type": "text", "fontSize": 15.3, "font": "Liberation Sans", "color": "black"}, "encoding": {"text": {"field": "label"}}}
  ]
},
{
  "width": 254, "height": 254,
  "data": {"name": "cnr"},
  "transform": [{"filter": "datum.col == 'Entire needle' && datum.row == 'Introducer'"}],
  "encoding": {
    "x": {"field": "x", "type": "quantitative", "title": null, "scale": {"domain": [0.42, 2.58], "nice": false, "zero": false},
      "axis": {"values": [1, 2], "labelExpr": "datum.value == 1 ? ['Ultrasound', 'contrast agent'] : 'Controls'", "labelLineHeight": 17, "labelPadding": 5, "tickSize": 9}},
    "y": {"field": "y", "type": "quantitative", "title": null, "scale": {"domain": [-0.22, 2.92], "nice": false, "zero": false},
      "axis": {"values": [0, 0.5, 1, 1.5, 2, 2.5], "format": ".1f", "labelPadding": 9, "tickSize": 9}}
  },
  "layer": [
    {"transform": [{"filter": "datum.kind == 'pt'"}], "mark": {"type": "point", "shape": "circle", "filled": false, "stroke": "black", "strokeWidth": 1.3, "size": 90, "opacity": 1}},
    {"transform": [{"filter": "datum.kind == 'mean'"}], "mark": {"type": "tick", "orient": "horizontal", "size": 71, "thickness": 3.5, "color": "#7f7f7f", "opacity": 1}},
    {"transform": [{"filter": "datum.kind == 'brace'"}], "mark": {"type": "line", "color": "black", "strokeWidth": 1, "interpolate": "monotone"}, "encoding": {}},
    {"transform": [{"filter": "datum.kind == 'p'"}], "mark": {"type": "text", "fontSize": 15.3, "font": "Liberation Sans", "color": "black"}, "encoding": {"text": {"field": "label"}}}
  ]
},
{
  "width": 254, "height": 254,
  "data": {"name": "cnr"},
  "transform": [{"filter": "datum.col == 'Needle tip' && datum.row == 'Introducer'"}],
  "encoding": {
    "x": {"field": "x", "type": "quantitative", "title": null, "scale": {"domain": [0.42, 2.58], "nice": false, "zero": false},
      "axis": {"values": [1, 2], "labelExpr": "datum.value == 1 ? ['Ultrasound', 'contrast agent'] : 'Controls'", "labelLineHeight": 17, "labelPadding": 5, "tickSize": 9}},
    "y": {"field": "y", "type": "quantitative", "title": "Introducer needle", "scale": {"domain": [-0.22, 2.92], "nice": false, "zero": false},
      "axis": {"orient": "right", "labels": false, "ticks": false, "titleAngle": 270, "titleBaseline": "top", "titlePadding": 26, "titleLineHeight": 19}}
  },
  "layer": [
    {"transform": [{"filter": "datum.kind == 'pt'"}], "mark": {"type": "point", "shape": "circle", "filled": false, "stroke": "black", "strokeWidth": 1.3, "size": 90, "opacity": 1}},
    {"transform": [{"filter": "datum.kind == 'mean'"}], "mark": {"type": "tick", "orient": "horizontal", "size": 71, "thickness": 3.5, "color": "#7f7f7f", "opacity": 1}},
    {"transform": [{"filter": "datum.kind == 'brace'"}], "mark": {"type": "line", "color": "black", "strokeWidth": 1, "interpolate": "monotone"}, "encoding": {}},
    {"transform": [{"filter": "datum.kind == 'p'"}], "mark": {"type": "text", "fontSize": 15.3, "font": "Liberation Sans", "color": "black"}, "encoding": {"text": {"field": "label"}}}
  ]
}
],
"resolve": {"scale": {"x": "shared", "y": "shared"}},
"config": {
  "view": {"stroke": "black", "strokeWidth": 1.3},
  "font": "Liberation Sans",
  "title": {"font": "Liberation Sans", "fontSize": 15.3, "fontWeight": "normal", "color": "black", "anchor": "middle", "frame": "group", "offset": 10},
  "axis": {"labelFont": "Liberation Sans", "labelFontSize": 15, "labelColor": "black", "tickColor": "black",
    "tickWidth": 1.1, "domain": false, "grid": false, "titleFont": "Liberation Sans", "titleFontSize": 15.3,
    "titleFontWeight": "normal", "titleColor": "black"}
}
}
